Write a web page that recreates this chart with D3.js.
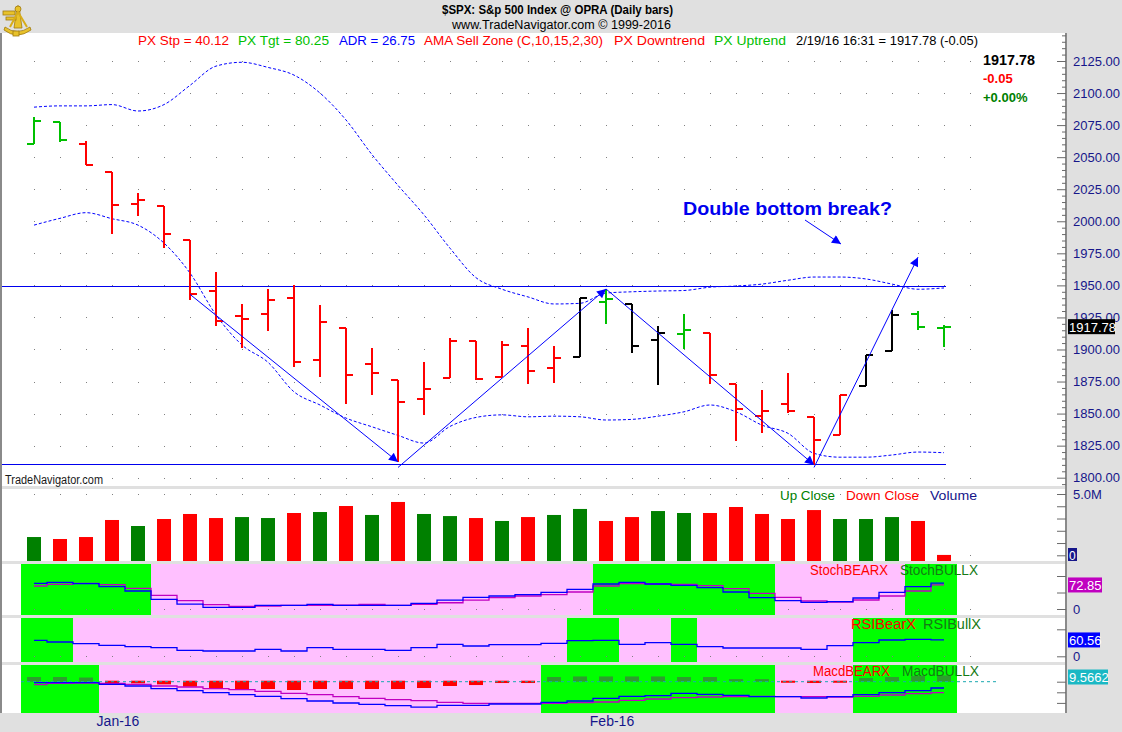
<!DOCTYPE html>
<html><head><meta charset="utf-8">
<script src="https://cdn.jsdelivr.net/npm/d3@7/dist/d3.min.js"></script>
<style>
html,body{margin:0;padding:0;background:#fff;overflow:hidden;}
svg{display:block;}
text{font-family:"Liberation Sans Narrow","Liberation Sans",Arial,sans-serif;}
</style></head><body>
<svg id="c" width="1122" height="732"></svg>
<script>
// ---------------- DATA ----------------
const dates = ["12/29","12/30","12/31","1/4","1/5","1/6","1/7","1/8","1/11","1/12","1/13","1/14","1/15","1/19","1/20","1/21","1/22","1/25","1/26","1/27","1/28","1/29","2/1","2/2","2/3","2/4","2/5","2/8","2/9","2/10","2/11","2/12","2/16","2/17","2/18","2/19"];
const opens  = [2060.5,2077.3,2060.6,2038.2,2013.8,2011.7,1985.3,1946.0,1926.1,1927.8,1940.3,1891.7,1916.7,1888.7,1876.2,1861.5,1877.4,1906.3,1878.8,1902.5,1885.2,1894.0,1936.9,1935.3,1907.1,1911.7,1913.1,1873.3,1848.5,1857.1,1847.0,1833.4,1871.4,1898.8,1927.6,1916.7];
const highs  = [2081.6,2077.3,2062.5,2038.2,2021.9,2011.7,1985.3,1960.4,1935.7,1947.4,1950.3,1934.5,1916.7,1901.4,1876.2,1889.9,1908.9,1906.3,1906.7,1917.0,1903.0,1940.2,1947.2,1935.3,1918.0,1927.4,1913.1,1873.3,1868.3,1881.6,1847.0,1864.8,1895.8,1930.7,1930.0,1918.8];
const lows   = [2060.5,2062.0,2043.6,1989.7,2004.2,1979.1,1938.8,1918.5,1901.1,1914.4,1886.4,1878.9,1857.8,1864.6,1812.3,1849.0,1877.4,1876.0,1878.8,1872.7,1873.7,1894.0,1920.0,1897.3,1872.2,1900.5,1872.7,1828.5,1834.9,1850.3,1810.1,1833.4,1871.4,1898.8,1915.1,1902.2];
const closes = [2078.4,2063.4,2043.9,2012.7,2016.7,1990.3,1943.1,1922.0,1923.7,1938.7,1890.3,1921.8,1880.3,1881.3,1859.3,1869.0,1906.9,1877.1,1903.6,1883.0,1893.4,1940.2,1939.4,1903.0,1912.5,1915.5,1880.1,1853.4,1852.2,1851.9,1829.1,1864.8,1895.6,1926.8,1917.8,1917.8];
// trend state of each price bar: up / down / neutral
const barState = ["up","up","dn","dn","dn","dn","dn","dn","dn","dn","dn","dn","dn","dn","dn","dn","dn","dn","dn","dn","dn","nt","up","nt","nt","up","dn","dn","dn","dn","dn","dn","nt","nt","up","up"];
const upperBand = [2089,2090,2090,2091,2086,2091,2106,2121,2124,2120,2114,2100,2079,2052,2028,2005,1979,1956,1947,1941,1935.5,1936,1944,1945,1945.6,1946,1948.6,1949.5,1951,1954,1956.5,1956.5,1955,1951,1947,1948];
const lowerBand = [1997,2002.3,2006.7,2002,1997,1983,1959.6,1927,1903.5,1890,1867,1856.7,1846.5,1839.7,1833,1827,1840,1847,1849,1847.5,1848,1847.5,1845,1845.5,1848,1851.4,1856.7,1851.4,1841,1834.6,1819,1816,1816,1817.7,1820,1819.5];
// volume in millions, up/down close
const volumes = [1.49,1.33,1.49,2.88,2.39,2.96,3.37,3.04,3.12,3.04,3.45,3.53,4.02,3.29,4.35,3.37,3.20,3.04,2.80,3.12,3.29,3.78,2.80,3.12,3.61,3.45,3.45,3.94,3.37,2.96,3.69,2.96,2.96,3.12,2.80,0.03];
const volUp = [1,0,0,0,1,0,0,0,1,1,0,1,0,1,0,1,1,0,1,0,1,1,0,0,1,1,0,0,0,0,0,1,1,1,0,0];
const stochK = [77.9,80.8,76.8,67.7,54.5,29.3,15,5,5,11.1,11,14,11,11,11,17,27,35.4,39.4,43.4,50.5,59.6,75.8,80.8,75.8,71.7,64.6,51.5,34.3,25.3,20.2,22.2,33.3,50.5,67.6,78.5];
const stochD = [69.7,74.7,77.9,73.7,62.6,41.4,25.2,13.1,8.1,9.1,11,11,12,14,11,14,19,27,34.3,39.4,43.4,51.5,69.7,76.8,75.8,74.7,70.7,61.6,47.5,35.4,24.2,21.2,27.3,39.4,54.5,72.85];
const rsi = [59.2,53,46.7,40.6,35.6,31.9,22,19.6,19.6,25.8,19.6,31.9,25.8,25.8,22,31.9,44.3,38.1,43.1,43.1,48,57.9,59.2,44.3,50.5,44.3,35.6,30.7,30.7,30.7,25.8,39.4,50.5,60.4,62.9,60.56];
const macd = [-1.9,-1.9,-1.9,-5,-8.1,-13.2,-17,-20.8,-24.5,-27.6,-32,-36.4,-40.2,-42.8,-45.3,-47.8,-44.6,-44.6,-42.1,-42.1,-38.9,-36.4,-31.4,-27.6,-26.4,-22,-23.8,-25.7,-28.3,-28.3,-30.8,-28.3,-24.5,-20.8,-17,-11.9];
const macdSig = [-5.7,-3.1,-2.5,-3.1,-5,-8.1,-10,-13.2,-15.1,-18.2,-22,-24.5,-28.3,-31.4,-33.9,-35.8,-38.9,-40.8,-40.8,-40.8,-40.8,-39.6,-38.3,-35.2,-32.6,-30.2,-28.9,-28.3,-27.6,-28.3,-28.3,-28.9,-27.6,-25.1,-22.6,-20.8];
const macdHist = [7,7,6,-2.5,-3.1,-5,-9.4,-12.6,-14.5,-13.8,-15.7,-13.8,-13.8,-13.8,-13.8,-11.9,-8.1,-6.3,-2.5,-2.5,7,8,8,8,8,7,7,3,3,-2,-2.5,-2,5,7,9,10];
// 1 = bull zone (green), 0 = bear zone (pink)
const stochZone = [1,1,1,1,1,0,0,0,0,0,0,0,0,0,0,0,0,0,0,0,0,0,1,1,1,1,1,1,1,0,0,0,0,0,1,1];
const rsiZone   = [1,1,0,0,0,0,0,0,0,0,0,0,0,0,0,0,0,0,0,0,0,1,1,0,0,1,0,0,0,0,0,0,1,1,1,1];
const macdZone  = [1,1,1,0,0,0,0,0,0,0,0,0,0,0,0,0,0,0,0,0,1,1,1,1,1,1,1,1,1,0,0,0,1,1,1,1];
const priceTicks = [2125,2100,2075,2050,2025,2000,1975,1950,1925,1900,1875,1850,1825,1800];
const volTicks = [0,1,2,3,4,5];
// trend lines [i0,p0,i1,p1]
const trendLines = [[6,1943,14,1812.3],[14,1808,22,1947.2],[22,1947.2,30,1810.1],[30,1808,34,1972]];
const levelLines = [1949.3, 1810.6];
const monthLabels = [{i:3,t:"Jan-16"},{i:22,t:"Feb-16"}];
const legendItems = [
  {t:"PX Stp = 40.12",c:"#ff0000",x:138,w:91},
  {t:"PX Tgt = 80.25",c:"#00c000",x:238,w:91},
  {t:"ADR = 26.75",c:"#0000ff",x:339,w:76},
  {t:"AMA Sell Zone (C,10,15,2,30)",c:"#ff0000",x:424,w:179},
  {t:"PX Downtrend",c:"#ff0000",x:614,w:91},
  {t:"PX Uptrend",c:"#00c000",x:714,w:72},
  {t:"2/19/16 16:31 = 1917.78 (-0.05)",c:"#000000",x:796,w:182}
];

// ---------------- LAYOUT ----------------
const W=1122,H=732,PR=1067;
const svg=d3.select("#c");
const x=d3.scaleLinear().domain([0,36]).range([34,970]);
const yP=d3.scaleLinear().domain([1800,2125]).range([477.7,61]);
const yV=d3.scaleLinear().domain([0,5]).range([555.3,494]);
const yS=d3.scaleLinear().domain([0,100]).range([609,576]);
const yR=d3.scaleLinear().domain([0,100]).range([656.3,629.3]);
const yM=d3.scaleLinear().domain([-40,0]).range([702.9,681.7]);
const idx=d3.range(36);
const GREY="#e0e0e0", NAVY="#16168a";

svg.append("rect").attr("width",W).attr("height",H).attr("fill",GREY);
const panels=[[33,486],[489,561],[564,615],[618,662],[665,713]];
panels.forEach(([t,b])=>svg.append("rect").attr("x",2).attr("y",t).attr("width",PR-2).attr("height",b-t).attr("fill","#fff"));
svg.append("rect").attr("x",0).attr("y",33).attr("width",2).attr("height",680).attr("fill","#8a8a8a");

// ---- logo (sextant) ----
const lg=svg.append("g").attr("fill","#e8c22a").attr("stroke","#a07a10").attr("stroke-width",0.8);
lg.append("path").attr("d","M5,27 Q17,36 30,27 L31,30 Q17,40 4,30 Z");
lg.append("path").attr("d","M17,6 L19,6 L22,28 L14,28 Z");
lg.append("rect").attr("x",3).attr("y",11).attr("width",12).attr("height",4);
lg.append("rect").attr("x",6).attr("y",17).attr("width",10).attr("height",3);
lg.append("circle").attr("cx",18).attr("cy",9).attr("r",3);
lg.append("path").attr("d","M10,27 L18,12 L27,27").attr("fill","none").attr("stroke","#d8ad18").attr("stroke-width",2);
lg.append("rect").attr("x",13).attr("y",31).attr("width",6).attr("height",5);

// ---- header ----
svg.append("text").attr("x",442).attr("y",14).attr("font-size",12).attr("font-weight","bold")
  .attr("textLength",231).attr("lengthAdjust","spacingAndGlyphs").text("$SPX:  S&p 500 Index @ OPRA  (Daily bars)");
svg.append("text").attr("x",452).attr("y",29).attr("font-size",12.5)
  .attr("textLength",219).attr("lengthAdjust","spacingAndGlyphs").text("www.TradeNavigator.com \u00a9 1999-2016");
legendItems.forEach(d=>svg.append("text").attr("x",d.x).attr("y",45).attr("font-size",13.5).attr("fill",d.c)
  .attr("textLength",d.w).attr("lengthAdjust","spacingAndGlyphs").text(d.t));

// ---- indicator zone backgrounds ----
function zones(arr,top,bot){
  svg.append("g").selectAll("rect").data(idx).join("rect")
    .attr("x",i=>x(i)-13).attr("y",top).attr("width",26).attr("height",bot-top)
    .attr("fill",i=>arr[i]?"#00ff00":"#ffc0ff").attr("shape-rendering","crispEdges");
}
zones(stochZone,564,615);
zones(rsiZone,618,662);
zones(macdZone,665,713);

// ---- grid dots ----
const dots=svg.append("g").attr("fill","#808080");
const cols=d3.range(37);
priceTicks.forEach(p=>cols.forEach(i=>dots.append("rect").attr("x",x(i)).attr("y",Math.round(yP(p))).attr("width",1).attr("height",1)));
[5,0].forEach(v=>cols.forEach(i=>dots.append("rect").attr("x",x(i)).attr("y",Math.round(yV(v))).attr("width",1).attr("height",1)));
cols.forEach(i=>{dots.append("rect").attr("x",x(i)).attr("y",Math.round(yS(0))).attr("width",1).attr("height",1);
  dots.append("rect").attr("x",x(i)).attr("y",Math.round(yR(0))).attr("width",1).attr("height",1);});

// ---- level lines ----
levelLines.forEach(p=>svg.append("line").attr("x1",2).attr("x2",x(35)+2).attr("y1",Math.round(yP(p))+0.5).attr("y2",Math.round(yP(p))+0.5)
  .attr("stroke","#0000ee").attr("stroke-width",1.2));

// ---- bands ----
const bandLine=d3.line().x((d,i)=>x(i)).y(d=>yP(d)).curve(d3.curveMonotoneX);
[upperBand,lowerBand].forEach(b=>svg.append("path").attr("d",bandLine(b)).attr("fill","none")
  .attr("stroke","#0000ff").attr("stroke-width",1).attr("stroke-dasharray","3,2"));

// ---- price bars ----
const colorOf={up:"#00c000",dn:"#ff0000",nt:"#000000"};
const bars=svg.append("g").attr("stroke-width",2).attr("shape-rendering","crispEdges");
idx.forEach(i=>{
  const c=colorOf[barState[i]], xi=x(i);
  bars.append("line").attr("x1",xi).attr("x2",xi).attr("y1",yP(highs[i])).attr("y2",yP(lows[i])).attr("stroke",c);
  bars.append("line").attr("x1",xi-7).attr("x2",xi).attr("y1",yP(opens[i])).attr("y2",yP(opens[i])).attr("stroke",c);
  bars.append("line").attr("x1",xi).attr("x2",xi+7).attr("y1",yP(closes[i])).attr("y2",yP(closes[i])).attr("stroke",c);
});

// ---- trend lines with arrows ----
const defs=svg.append("defs");
defs.append("marker").attr("id","ah").attr("viewBox","0 0 10 10").attr("refX",10).attr("refY",5)
  .attr("markerWidth",11).attr("markerHeight",9).attr("markerUnits","userSpaceOnUse").attr("orient","auto")
  .append("path").attr("d","M0,0 L10,5 L0,10 Z").attr("fill","#0000ff");
trendLines.forEach(([i0,p0,i1,p1])=>svg.append("line").attr("x1",x(i0)).attr("y1",yP(p0)).attr("x2",x(i1)).attr("y2",yP(p1))
  .attr("stroke","#0000ff").attr("stroke-width",1).attr("marker-end","url(#ah)"));

// ---- annotation ----
svg.append("text").attr("x",683).attr("y",215).attr("font-family","Liberation Sans,Arial,sans-serif").attr("font-size",19).attr("font-weight","bold")
  .attr("fill","#0000ee").attr("textLength",209).attr("lengthAdjust","spacingAndGlyphs").text("Double bottom break?");
svg.append("line").attr("x1",805).attr("y1",220).attr("x2",841).attr("y2",244).attr("stroke","#0000ff").attr("stroke-width",1).attr("marker-end","url(#ah)");

svg.append("text").attr("x",5).attr("y",484).attr("font-size",12).attr("fill","#1a1a1a").attr("font-family","Liberation Sans,Arial,sans-serif")
  .attr("textLength",98).attr("lengthAdjust","spacingAndGlyphs").text("TradeNavigator.com");

// last price info
const sf="Liberation Serif,Times New Roman,serif";
svg.append("text").attr("x",983).attr("y",65).attr("font-family",sf).attr("font-weight","bold").attr("font-size",15.5).attr("fill","#000")
  .attr("textLength",52).attr("lengthAdjust","spacingAndGlyphs").text("1917.78");
svg.append("text").attr("x",983).attr("y",83).attr("font-family",sf).attr("font-weight","bold").attr("font-size",13).attr("fill","#ff0000").text("-0.05");
svg.append("text").attr("x",983).attr("y",102).attr("font-family",sf).attr("font-weight","bold").attr("font-size",13).attr("fill","#008000").text("+0.00%");

// ---- volume ----
svg.append("g").selectAll("rect").data(idx).join("rect")
  .attr("x",i=>x(i)-7).attr("width",14).attr("y",i=>yV(volumes[i])).attr("height",i=>561-yV(volumes[i]))
  .attr("fill",i=>volUp[i]?"#008000":"#ff0000");
[[780,"Up Close","#008000",55],[846,"Down Close","#ff0000",73],[930,"Volume",NAVY,47]].forEach(([xx,t,c,w])=>
  svg.append("text").attr("x",xx).attr("y",500).attr("font-size",13.5).attr("fill",c).attr("textLength",w).attr("lengthAdjust","spacingAndGlyphs").text(t));

// ---- stochastics ----
const stepLine=(ys)=>d3.line().x((d,i)=>x(i)).y(d=>ys(d)).curve(d3.curveStep);
svg.append("path").attr("d",stepLine(yS)(stochD)).attr("fill","none").attr("stroke","#c000c0").attr("stroke-width",1.3);
svg.append("path").attr("d",stepLine(yS)(stochK)).attr("fill","none").attr("stroke","#0000ff").attr("stroke-width",1.3);
// ---- RSI ----
svg.append("path").attr("d",stepLine(yR)(rsi)).attr("fill","none").attr("stroke","#0000ff").attr("stroke-width",1.3);
// ---- MACD ----
svg.append("g").selectAll("rect").data(idx).join("rect")
  .attr("x",i=>x(i)-7).attr("width",14)
  .attr("y",i=>Math.min(yM(0),yM(macdHist[i]))-1).attr("height",i=>Math.abs(yM(macdHist[i])-yM(0))+1)
  .attr("fill",i=>macdHist[i]>=0?"#2e9e2e":"#ff0000");
svg.append("line").attr("x1",21).attr("x2",997).attr("y1",yM(0)).attr("y2",yM(0)).attr("stroke","#1aa8b0").attr("stroke-width",1).attr("stroke-dasharray","3,3");
svg.append("path").attr("d",stepLine(yM)(macdSig)).attr("fill","none").attr("stroke","#c000c0").attr("stroke-width",1.3);
svg.append("path").attr("d",stepLine(yM)(macd)).attr("fill","none").attr("stroke","#0000ff").attr("stroke-width",1.3);

// indicator labels
[[810,575,"StochBEARX","#ff0000",78],[900,575,"StochBULLX","#157a15",78],
 [851,629,"RSIBearX","#ff0000",65],[923,629,"RSIBullX","#157a15",58],
 [813,676,"MacdBEARX","#ff0000",77],[902,676,"MacdBULLX","#157a15",77]].forEach(([xx,yy,t,c,w])=>
  svg.append("text").attr("x",xx).attr("y",yy).attr("font-size",14).attr("fill",c).attr("textLength",w).attr("lengthAdjust","spacingAndGlyphs").text(t));

// ---- right axes ----
svg.append("rect").attr("x",PR).attr("y",0).attr("width",W-PR).attr("height",H).attr("fill",GREY);
svg.append("rect").attr("x",PR-2).attr("y",33).attr("width",2).attr("height",680).attr("fill","#8a8a8a");
function styleAxis(g){g.select(".domain").remove();g.selectAll("line").attr("stroke","#6a6a6a");
  g.selectAll("text").attr("fill",NAVY).attr("font-family","Liberation Sans,Arial,sans-serif").attr("font-size",13);}
const minor=d3.range(1795,2150,5).filter(v=>v%25!==0);
svg.append("g").attr("transform",`translate(${PR-1},0)`).call(d3.axisRight(yP).tickValues(minor).tickSize(-4).tickFormat("")).call(styleAxis);
svg.append("g").attr("transform",`translate(${PR-1},0)`).call(d3.axisRight(yP).tickValues(priceTicks).tickSize(-9).tickPadding(7).tickFormat(d3.format(".2f"))).call(styleAxis);
svg.append("g").attr("transform",`translate(${PR-1},0)`).call(d3.axisRight(yV).tickValues(volTicks).tickSize(-9).tickPadding(7).tickFormat(d=>d===5?"5.0M":"")).call(styleAxis);
svg.append("g").attr("transform",`translate(${PR-1},0)`).call(d3.axisRight(yS).tickValues([0,50,100]).tickSize(-9).tickPadding(7).tickFormat(d=>d===0?"0":"")).call(styleAxis);
svg.append("g").attr("transform",`translate(${PR-1},0)`).call(d3.axisRight(yR).tickValues([0,100]).tickSize(-9).tickPadding(7).tickFormat(d=>d===0?"0":"")).call(styleAxis);
svg.append("g").attr("transform",`translate(${PR-1},0)`).call(d3.axisRight(yM).tickValues([0,-20,-40]).tickSize(-9).tickPadding(7).tickFormat("")).call(styleAxis);

function tag(yc,txt,bg,w){
  svg.append("rect").attr("x",PR+1).attr("y",yc-7.5).attr("width",w).attr("height",15).attr("fill",bg);
  svg.append("text").attr("x",PR+2).attr("y",yc+5).attr("font-family","Liberation Sans,Arial,sans-serif").attr("font-size",13).attr("fill","#fff").text(txt);
}
tag(yP(closes[35]),"1917.78","#000",47);
tag(yS(stochD[35]),"72.85","#c000c0",34);
tag(yR(rsi[35]),"60.56","#0000ff",32);
tag(677,"9.5662","#1ab8c4",40);
svg.append("rect").attr("x",PR+1).attr("y",548).attr("width",9).attr("height",13).attr("fill",NAVY);
svg.append("text").attr("x",PR+2).attr("y",559.5).attr("font-family","Liberation Sans,Arial,sans-serif").attr("font-size",12).attr("fill","#fff").text("0");

// ---- date labels ----
monthLabels.forEach(d=>svg.append("text").attr("x",x(d.i)+6).attr("y",726).attr("text-anchor","middle")
  .attr("font-family","Liberation Sans,Arial,sans-serif").attr("font-size",14).attr("fill",NAVY).text(d.t));
</script>
</body></html>
